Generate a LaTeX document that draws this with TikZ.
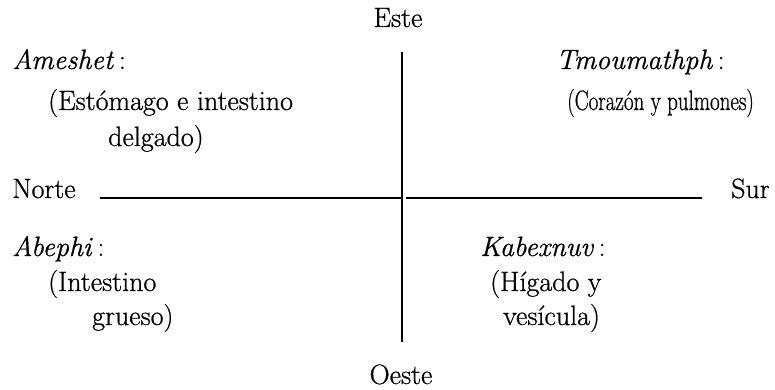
\documentclass[tikz,border=0pt]{standalone}
\usepackage{fontspec}
\setmainfont{Latin Modern Roman}[FakeBold=0.7]
\tikzset{
  lbl/.style={inner sep=0pt, anchor=base west, font=\fontsize{28}{32}\selectfont},
  axis line/.style={line width=1.5pt, black},
}
\begin{document}
\begin{tikzpicture}[x=1pt,y=-1pt]
\useasboundingbox (0,0) rectangle (775,390);
% compass labels
\node[lbl, anchor=base] (este) at (398,27) {Este};
\node[lbl, anchor=base] (oeste) at (401,384) {Oeste};
\node[lbl] (norte) at (12,198) {Norte};
\node[lbl] (sur) at (731,198) {Sur};
% axes
\coordinate (vtop) at (402,52);
\coordinate (vbot) at (402,342);
\coordinate (hleft) at (100,198);
\coordinate (hmid) at (402,198);
\coordinate (hmidr) at (406,198);
\coordinate (hright) at (702,198);
\draw[axis line] (vtop) -- (vbot);
\draw[axis line, line width=1.2pt] (hleft) -- (hmid);
\draw[axis line, line width=1.2pt] (hmidr) -- (hright);
% upper left
\node[lbl] (amesh) at (12,69) {\textit{Ameshet}\,:};
\node[lbl] (amesh1) at (48,110) {(Estómago e intestino};
\node[lbl] (amesh2) at (108,146) {delgado)};
% upper right
\node[lbl] (tmou) at (556,69) {\textit{Tmoumathph}\,:};
\node[lbl] (tmou1) at (567,110) {\scalebox{0.75}[1]{(Corazón y pulmones)}};
% lower left
\node[lbl] (abep) at (12,256) {\textit{Abephi}\,:};
\node[lbl] (abep1) at (48,291) {(Intestino};
\node[lbl] (abep2) at (92,325) {grueso)};
% lower right
\node[lbl] (kabe) at (480,256) {\textit{Kabexnuv}\,:};
\node[lbl] (kabe1) at (490,291) {(Hígado y};
\node[lbl] (kabe2) at (503,325) {vesícula)};
\end{tikzpicture}
\end{document}
